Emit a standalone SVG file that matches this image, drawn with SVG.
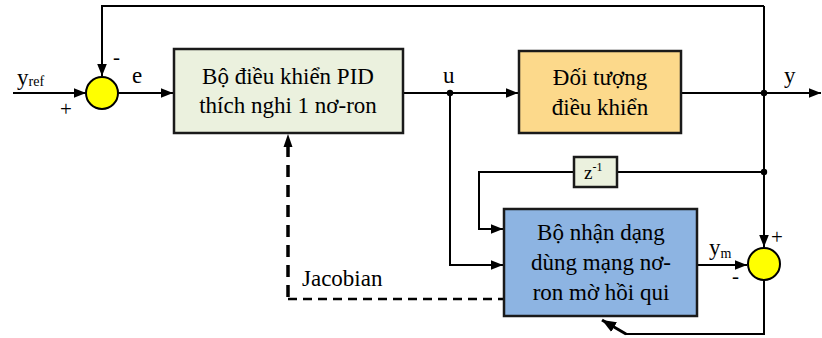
<svg xmlns="http://www.w3.org/2000/svg" width="822" height="338" viewBox="0 0 822 338">
<style>
.ln{fill:none;stroke:#000;stroke-width:2}
.box{stroke:#1a1a1a;stroke-width:2.5}
.t{font-size:23px;fill:#000}
.s{font-size:14px;fill:#000}
.sg{font-size:21px;fill:#000}
.sum{fill:#FFFF00;stroke:#000;stroke-width:2}
.dot{fill:#000}
</style>
<defs>
<marker id="arr" viewBox="0 0 10 8" refX="10" refY="4" markerWidth="12" markerHeight="10" markerUnits="userSpaceOnUse" orient="auto">
<path d="M0,0 L10,4 L0,8 z" fill="#000"/>
</marker>
<marker id="arrB" viewBox="0 0 10 8" refX="10" refY="4" markerWidth="14" markerHeight="12" markerUnits="userSpaceOnUse" orient="auto">
<path d="M0,0 L10,4 L0,8 z" fill="#000"/>
</marker>
</defs>

<g font-family="'Liberation Serif', serif">
<g id="connectors">
<path class="ln" d="M13,93 H86" marker-end="url(#arr)"/>
<path class="ln" d="M764,6 H102 V76" marker-end="url(#arr)"/>
<path class="ln" d="M118,93 H173" marker-end="url(#arr)"/>
<path class="ln" d="M403,93 H518" marker-end="url(#arr)"/>
<path class="ln" d="M681,93 H821" marker-end="url(#arr)"/>
<path class="ln" d="M764,6 V247" marker-end="url(#arr)"/>
<path class="ln" d="M764,172 H617"/>
<path class="ln" d="M574,172 H479 V229 H503" marker-end="url(#arr)"/>
<path class="ln" d="M450,93 V265 H503" marker-end="url(#arr)"/>
<path class="ln" d="M697,265 H747" marker-end="url(#arr)"/>
<path class="ln" d="M764,280 V334 H625"/>
<path fill="none" stroke="#000" stroke-width="3" d="M626,334 L602,320" marker-end="url(#arrB)"/>
<path fill="none" stroke="#000" stroke-width="3.5" stroke-dasharray="12,8" d="M288,297 V146"/>
<path fill="#000" d="M288,134 L283.5,147 L292.5,147 z"/>
<path fill="none" stroke="#000" stroke-width="2.5" stroke-dasharray="9,6" d="M288,299 H503"/>
<circle class="dot" cx="450" cy="93" r="3.2"/>
<circle class="dot" cx="764" cy="93" r="3.2"/>
<circle class="dot" cx="764" cy="172" r="3.2"/>
<text class="t" x="17" y="85">y<tspan class="s" dy="1">ref</tspan></text>
<text class="t" x="132" y="83">e</text>
<text class="t" x="443" y="83">u</text>
<text class="t" x="784" y="83">y</text>
<text class="t" x="709" y="255">y<tspan class="s" dy="3">m</tspan></text>
<text class="t" x="302" y="286">Jacobian</text>
</g>

<g id="sum1">
<circle class="sum" cx="102" cy="93" r="16"/>
<text class="sg" x="113" y="64">-</text>
<text class="sg" x="60" y="116">+</text>
</g>

<g id="pid">
<rect class="box" x="174" y="49" width="229" height="84" fill="#EBF1DE"/>
<text class="t" x="288" y="84" text-anchor="middle">Bộ điều khiển PID</text>
<text class="t" x="288" y="113" text-anchor="middle">thích nghi 1 nơ-ron</text>
</g>

<g id="plant">
<rect class="box" x="519" y="51" width="162" height="82" fill="#FCD98B"/>
<text class="t" x="600" y="85" text-anchor="middle">Đối tượng</text>
<text class="t" x="600" y="115" text-anchor="middle">điều khiển</text>
</g>

<g id="delay">
<rect class="box" x="574" y="157" width="43" height="30" fill="#EBF1DE"/>
<text class="t" x="584" y="179" style="font-size:19px">z<tspan dy="-8" style="font-size:12px">-1</tspan></text>
</g>

<g id="identifier">
<rect class="box" x="504" y="209" width="193" height="107" fill="#8DB4E2"/>
<text class="t" x="601" y="240" text-anchor="middle">Bộ nhận dạng</text>
<text class="t" x="601" y="270" text-anchor="middle">dùng mạng nơ-</text>
<text class="t" x="601" y="300" text-anchor="middle">ron mờ hồi qui</text>
</g>

<g id="sum2">
<circle class="sum" cx="764" cy="264" r="16"/>
<text class="sg" x="771" y="244">+</text>
<text class="sg" x="732" y="283">-</text>
</g>
</g>
</svg>
